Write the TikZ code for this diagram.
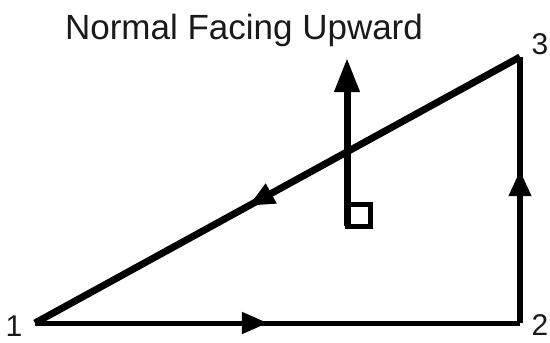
\documentclass[tikz,border=0pt]{standalone}
\usepackage{fontspec}
\setmainfont{Liberation Sans}
\usetikzlibrary{arrows.meta,decorations.markings}
\definecolor{inkgray}{HTML}{1A1A1A}

\begin{document}
\begin{tikzpicture}[x=1pt,y=-1pt,>=Latex,
  edge/.style={draw=black,line width=#1},
  midarrow/.style={postaction={decorate,decoration={markings,
    mark=at position #1 with {\arrow{Triangle[length=26pt,width=21pt]}}}}},
  normalvec/.style={-{Triangle[length=34pt,width=24pt]},line width=7pt,black},
  vlabel/.style={font=\fontsize{30}{33}\selectfont,text=inkgray,inner sep=0pt}]

\useasboundingbox (0,0) rectangle (550,343);

\coordinate (v1) at (35,323);
\coordinate (v2) at (520,323);
\coordinate (v3) at (520,57);

\node[font=\fontsize{35}{40}\selectfont,text=inkgray,inner sep=0pt] (title) at (244,30)
  {Normal Facing Upward};

\draw[edge=5pt,line cap=square,midarrow=0.48] (v1) -- (v2);
\draw[edge=6.5pt,line cap=square,midarrow=0.575] (v2) -- (v3);
\draw[edge=7pt,midarrow=0.56] (v3) -- (v1);

% normal and right-angle mark
\coordinate (foot) at (347,226);
\coordinate (tip) at (347,58);
\draw[normalvec] (foot) -- (tip);
\draw[line width=5pt] (347,204) rectangle (370,226);

\node[vlabel] (n1) at (14,326) {1};
\node[vlabel] (n2) at (540,325) {2};
\node[vlabel] (n3) at (540,44) {3};
\end{tikzpicture}
\end{document}
